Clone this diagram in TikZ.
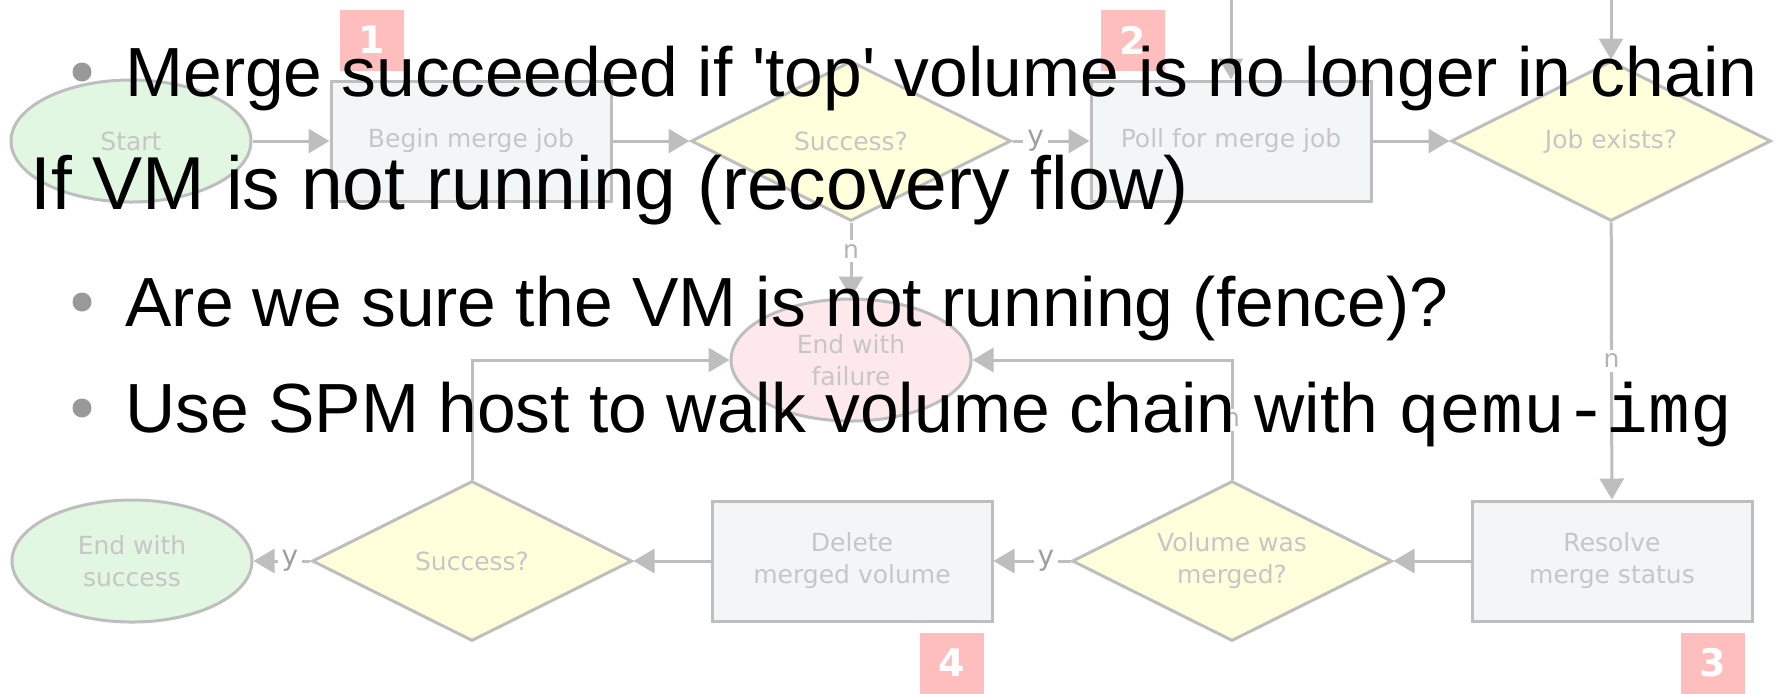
\documentclass[tikz,border=0pt]{standalone}
\usepackage{fontspec}
\setmainfont{Liberation Sans}
\setmonofont{Liberation Mono}
\newfontfamily\chartfont{DejaVu Sans}
\usetikzlibrary{arrows.meta,positioning,calc,shapes.geometric}

\definecolor{linegray}{HTML}{BEBEBE}
\definecolor{textgray}{HTML}{C6C6C6}
\definecolor{labelgray}{HTML}{B4B4B4}
\definecolor{yesgray}{HTML}{9E9E9E}
\definecolor{termgreen}{HTML}{E1F7E1}
\definecolor{failpink}{HTML}{FDE9EC}
\definecolor{procfill}{HTML}{F3F6F7}
\definecolor{decfill}{HTML}{FFFFDC}
\definecolor{badgepink}{HTML}{FFBEBE}
\definecolor{bulletgray}{HTML}{999999}

\begin{document}
\begin{tikzpicture}[
  x=0.5pt, y=-0.5pt,
  node distance=38.5pt,
  every node/.style = {align=center, text=textgray, font=\chartfont\fontsize{12.5}{16}\selectfont},
  terminal/.style = {ellipse, draw=linegray, line width=1.5pt, fill=termgreen, minimum width=120pt, minimum height=61pt, inner sep=0pt},
  process/.style = {rectangle, draw=linegray, line width=1.5pt, fill=procfill, minimum width=140pt, minimum height=60pt, inner sep=0pt},
  decision/.style = {diamond, aspect=2, draw=linegray, line width=1.5pt, fill=decfill, minimum width=160pt, minimum height=80pt, inner sep=0pt},
  badge/.style = {fill=badgepink, text=white, font=\chartfont\bfseries\fontsize{19}{19}\selectfont, minimum width=32pt, minimum height=30.5pt, inner sep=0pt},
  lbl/.style = {fill=white, text=labelgray, inner sep=2pt},
  lbly/.style = {lbl, text=yesgray, font=\chartfont\fontsize{14}{16}\selectfont},
  flow/.style = {draw=linegray, line width=1.5pt, -{Triangle[length=10.5pt,width=12pt]}},
  bullet/.style = {circle, fill=bulletgray, minimum size=9.5pt, inner sep=0pt},
  slide/.style = {anchor=base west, inner sep=0pt, text=black, font=\fontsize{34.8}{40}\selectfont},
  heading/.style = {slide, font=\fontsize{37.5}{44}\selectfont}
]
\useasboundingbox (0,0) rectangle (1776,693);
\fill[white] (0,0) rectangle (1776,693);
\coordinate (topedge) at (0,0);

% top row
\node[terminal] (start) at (131,141) {Start};
\node[process, right=of start] (merge) {Begin merge job};
\node[decision, right=of merge] (mergeok) {Success?};
\node[process, right=of mergeok] (poll) {Poll for merge job};
\node[decision, right=of poll] (jobexists) {Job exists?};

% failure end
\node[terminal, fill=failpink, below=37.5pt of mergeok] (fail) {End with\\failure};

% bottom row, right to left
\node[process] (resolve) at (1612,561) {Resolve\\merge status};
\node[decision, left=of resolve] (merged) {Volume was\\merged?};
\node[process, left=of merged] (delete) {Delete\\merged volume};
\node[decision, left=of delete] (deleteok) {Success?};
\node[terminal, left=28.5pt of deleteok] (done) {End with\\success};

% step numbers
\node[badge] (num1) at (372,40) {1};
\node[badge] (num2) at (1133,40) {2};
\node[badge] (num3) at (1713,663) {3};
\node[badge] (num4) at (952,663) {4};

% connectors
\draw[flow] (poll.north |- topedge) -- (poll);
\draw[flow] (jobexists.north |- topedge) -- (jobexists);
\draw[flow] (start) -- (merge);
\draw[flow] (merge) -- (mergeok);
\draw[flow] (mergeok) -- node[lbly, pos=0.3] {y} (poll);
\draw[flow] (poll) -- (jobexists);
\draw[flow] (mergeok) -- node[lbl, pos=0.38] {n} (fail);
\draw[flow] (jobexists) -- node[lbl] {n} (resolve);
\draw[flow] (resolve) -- (merged);
\draw[flow] (merged) -- node[lbly, pos=0.32] {y} (delete);
\draw[flow] (delete) -- (deleteok);
\draw[flow] (deleteok) -- node[lbly, pos=0.36] {y} (done);
\draw[flow] (deleteok) |- (fail);
\draw[flow] (merged) |- node[lbl, pos=0.25] {n} (fail);

% slide text on top
\node[bullet] (dotA) at (82,72) {};
\node[slide] (lineA) at (125,96) {Merge succeeded if \textquotesingle top\textquotesingle{} volume is no longer in chain};
\node[heading] (lineB) at (30,209) {If VM is not running (recovery flow)};
\node[bullet] (dotC) at (82,302) {};
\node[slide] (lineC) at (125,326) {Are we sure the VM is not running (fence)?};
\node[bullet] (dotD) at (82,408) {};
\node[slide] (lineD) at (125,432) {Use SPM host to walk volume chain with \texttt{qemu-img}};

\end{tikzpicture}
\end{document}
